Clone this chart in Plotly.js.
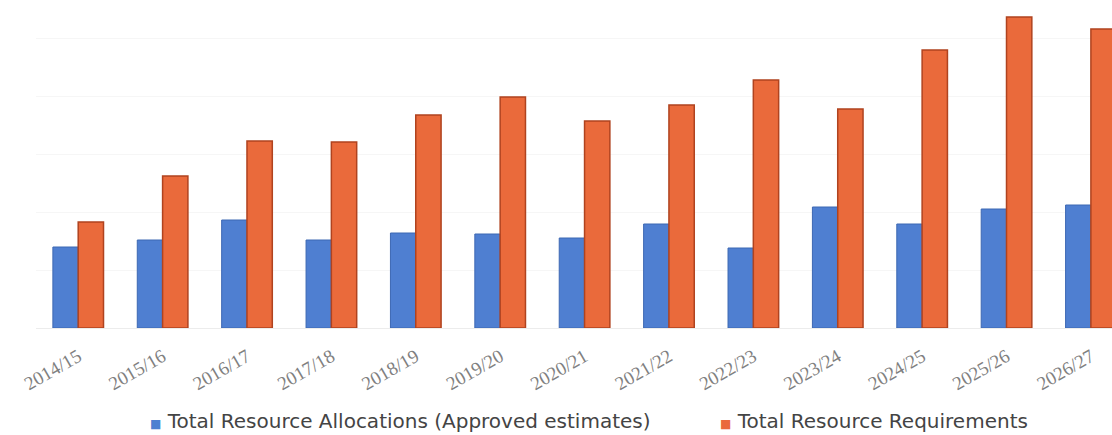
<!DOCTYPE html>
<html>
<head>
<meta charset="utf-8">
<script src="https://cdn.plot.ly/plotly-3.0.1.min.js"></script>
<style>html,body{margin:0;padding:0;background:#fff;}#chart{width:1112px;height:435px;}</style>
</head>
<body>
<div id="chart"></div>
<script>
const categories = ["2014/15","2015/16","2016/17","2017/18","2018/19","2019/20","2020/21","2021/22","2022/23","2023/24","2024/25","2025/26","2026/27"];
const allocations = [81, 88, 108, 88, 95, 94, 90, 104, 80, 121, 104, 119, 123];
const requirements = [106, 152, 187, 186, 213, 231, 207, 223, 248, 219, 278, 311, 299];
const seriesNames = ["Total Resource Allocations (Approved estimates)", "Total Resource Requirements"];
const seriesColors = ['#4f7fd1', '#ea6a3b'];

const traces = [
  {type:'bar', x:categories, y:allocations, name:seriesNames[0],
   marker:{color:seriesColors[0], line:{color:'#3d68b3', width:1}}},
  {type:'bar', x:categories, y:requirements, name:seriesNames[1],
   marker:{color:seriesColors[1], line:{color:'#b0431f', width:1.5}}}
];

const legendX = [0.104, 0.634];
const annotations = seriesNames.map((n, i) => ({
  xref:'paper', yref:'paper', x:legendX[i], y:-0.283, xanchor:'left', yanchor:'middle',
  showarrow:false,
  text:"<span style='color:" + seriesColors[i] + ";font-size:12px'>■</span> " + n,
  font:{family:'DejaVu Sans', size:20, color:'#444'}
}));

const layout = {
  width:1112, height:435,
  margin:{l:36, r:0, t:0, b:107},
  paper_bgcolor:'#ffffff', plot_bgcolor:'#ffffff',
  barmode:'group', bargap:0.4, bargroupgap:0,
  showlegend:false,
  annotations:annotations,
  xaxis:{type:'category', range:[-0.5, 12.25], tickangle:-30, automargin:false,
         tickfont:{family:"'Liberation Serif', 'DejaVu Serif', serif", size:19, color:'#808080'},
         ticklabelstandoff:13,
         showline:false, ticks:'', showgrid:false, fixedrange:true},
  yaxis:{range:[0, 328], showticklabels:false, ticks:'', showline:false, automargin:false,
         zeroline:true, zerolinecolor:'#ececec', zerolinewidth:1,
         showgrid:true, gridcolor:'#f6f6f6', dtick:58, fixedrange:true}
};

Plotly.newPlot('chart', traces, layout, {displayModeBar:false, staticPlot:true});
</script>
</body>
</html>
